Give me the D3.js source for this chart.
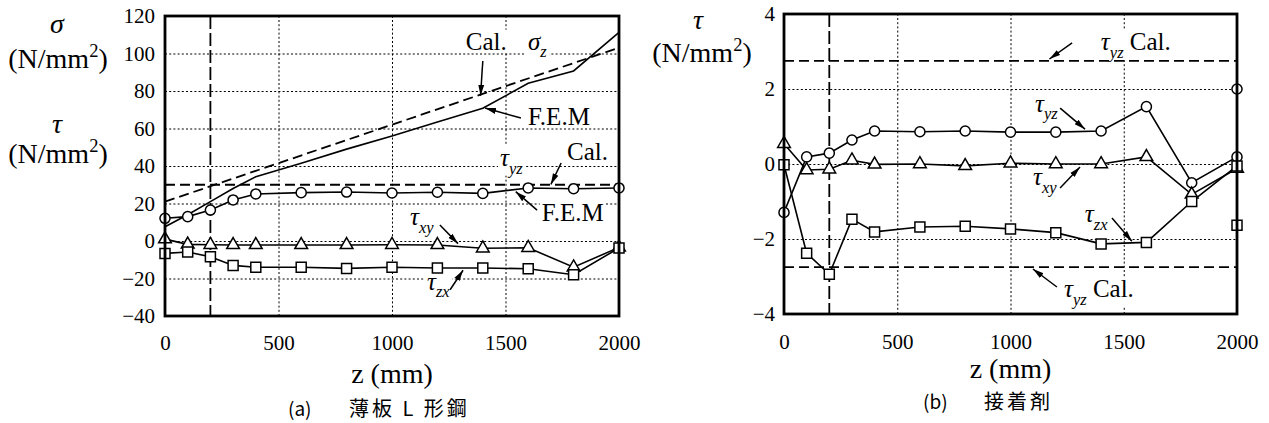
<!DOCTYPE html>
<html lang="en">
<head>
<meta charset="UTF-8">
<title>応力分布</title>
<script src="https://d3js.org/d3.v7.min.js"></script>
<style>
    * { margin: 0; padding: 0; box-sizing: border-box; }
    html, body { width: 100vw; height: 100vh; overflow: clip; background: #fff; }
    svg { display: block; }
</style>
</head>
<body>
<svg id="chart" width="1269" height="423"></svg>
<script>
const SERIF = '"Liberation Serif", "Times New Roman", serif'
const CJK = '"Noto Sans CJK JP", "Noto Sans", sans-serif'

// measuring points along the member (mm)
const zPts = [0, 100, 200, 300, 400, 600, 800, 1000, 1200, 1400, 1600, 1800, 2000]
const xTicks = [0, 500, 1000, 1500, 2000]
const cutZ = 200

// (a) 薄板L形鋼
const aTicks = [-40, -20, 0, 20, 40, 60, 80, 100, 120]
const aSigmaFem = [7.6, 14, 21, 28, 34.3, 41.5, 49, 56, 63.5, 70.8, 84.1, 90.7, 111.3]
const aSigmaCalZ = [0, 2000]
const aSigmaCal = [21, 103.1]
const aTauYz = [12.1, 13, 16.5, 21.9, 25.1, 25.8, 26.1, 25.6, 26, 25.4, 28.3, 27.9, 28.3]
const aTauXy = [1, -1.8, -2, -2.1, -2.1, -2.1, -2.1, -2, -2.1, -3.9, -3.6, -14, -3.4]
const aTauZx = [-6.6, -5.9, -8.4, -13, -14, -14, -14.6, -14, -14.4, -14.4, -14.8, -18, -3.7]
const aTauYzCal = [30]

// (b) 接着剤
const bTicks = [-4, -2, 0, 2, 4]
const bTauYz = [-1.29, 0.19, 0.29, 0.64, 0.88, 0.86, 0.88, 0.85, 0.85, 0.88, 1.53, -0.5, 0.19]
const bTauXy = [0.54, -0.16, -0.14, 0.1, -0.01, 0, -0.05, 0.02, 0, 0, 0.19, -0.81, -0.12]
const bTauZx = [-0.02, -2.38, -2.94, -1.47, -1.81, -1.68, -1.66, -1.73, -1.83, -2.13, -2.09, -1.0, -0.05]
const bTauYzCal = [2.75, -2.75]
const bLoneZ = [2000]
const bLoneYz = [2.0]
const bLoneZx = [-1.63]

const svg = d3.select("#chart").style("font-family", SERIF)

svg.append("defs").append("marker")
    .attr("id", "arrow")
    .attr("viewBox", "0 -4 11 8")
    .attr("refX", 11).attr("refY", 0)
    .attr("markerWidth", 11).attr("markerHeight", 8)
    .attr("markerUnits", "userSpaceOnUse")
    .attr("orient", "auto")
    .append("path")
    .attr("d", "M0,-3L11,0L0,3Z")
    .attr("fill", "#000")

// text with italic greek, subscripts and superscripts
function label(g, x, y, parts, size = 25, anchor = "start") {
    const t = g.append("text")
        .attr("x", x).attr("y", y)
        .attr("text-anchor", anchor)
        .style("font-family", SERIF)
        .style("font-size", size + "px")
        .attr("fill", "#000")
    let shift = 0
    parts.forEach(p => {
        const ts = t.append("tspan").text(p.t)
        const want = p.sub ? size * 0.3 : p.sup ? -size * 0.38 : 0
        if (want !== shift) { ts.attr("dy", want - shift); shift = want }
        if (p.sub || p.sup) ts.style("font-size", (size * 0.66) + "px")
        if (p.it) ts.style("font-style", "italic")
    })
    return t
}

function boxed(g, t) {
    const b = t.node().getBBox()
    g.insert("rect", () => t.node())
        .attr("x", b.x - 2).attr("y", b.y + 2)
        .attr("width", b.width + 4).attr("height", b.height - 4)
        .attr("fill", "#fff")
}

const TAU = (s) => [{ t: "τ", it: true }, { t: s, sub: true, it: true }]
const fmt = d => (d < 0 ? "\u2212" : "") + Math.abs(d)

function drawPanel(p) {
    const g = svg.append("g")
    const x = d3.scaleLinear().domain([0, 2000]).range([p.left, p.right])
    const y = d3.scaleLinear().domain(d3.extent(p.yTicks)).range([p.bottom, p.top])
    const w = p.right - p.left, h = p.bottom - p.top

    // dotted grid
    const grid = g.append("g")
    grid.append("g")
        .attr("transform", `translate(0,${p.bottom})`)
        .call(d3.axisBottom(x).tickValues(xTicks.slice(1, -1)).tickSize(-h).tickFormat(""))
    grid.append("g")
        .attr("transform", `translate(${p.left},0)`)
        .call(d3.axisLeft(y).tickValues(p.yTicks.slice(1, -1)).tickSize(-w).tickFormat(""))
    grid.selectAll(".domain").remove()
    grid.selectAll("line").attr("stroke", "#000").attr("stroke-width", 1).attr("stroke-dasharray", "2,2.2")

    // annotations (white box breaks the grid behind the text)
    const ann = g.append("g")
    p.notes.forEach(n => {
        const t = label(ann, x(n.z), y(n.v), n.parts)
        boxed(ann, t)
        if (!n.arrow) return
        ann.append("line")
            .attr("x1", x(n.arrow[0])).attr("y1", y(n.arrow[1]))
            .attr("x2", x(n.arrow[2])).attr("y2", y(n.arrow[3]))
            .attr("stroke", "#000").attr("stroke-width", 1.5)
            .attr("marker-end", "url(#arrow)")
    })

    // dashed reference lines
    const ref = g.append("g").attr("stroke", "#000").attr("fill", "none")
    ref.append("line")
        .attr("x1", x(cutZ)).attr("x2", x(cutZ)).attr("y1", p.top).attr("y2", p.bottom)
        .attr("stroke-width", 1.8).attr("stroke-dasharray", "13,4")
    ref.selectAll("line.cal").data(p.cal).join("line").attr("class", "cal")
        .attr("x1", p.left).attr("x2", p.right)
        .attr("y1", d => y(d)).attr("y2", d => y(d))
        .attr("stroke-width", 1.8).attr("stroke-dasharray", "10,5")
    if (p.calLine) {
        ref.append("path")
            .attr("d", d3.line().x((d, i) => x(p.calLine.z[i])).y(d => y(d))(p.calLine.values))
            .attr("stroke-width", 1.8).attr("stroke-dasharray", "10,5")
    }

    // data lines
    const line = d3.line().x((d, i) => x(zPts[i])).y(d => y(d))
    const data = g.append("g").attr("fill", "none").attr("stroke", "#000").attr("stroke-width", 1.6)
    p.lines.forEach(s => data.append("path").attr("d", line(s)))

    // markers
    const syms = g.append("g").attr("fill", "#fff").attr("stroke", "#000").attr("stroke-width", 1.5)
    p.series.forEach(s => {
        const sym = d3.symbol().type(s.type).size(s.size)
        syms.selectAll(null).data(s.values.map((v, i) => [s.z ? s.z[i] : zPts[i], v])).join("path")
            .attr("transform", d => `translate(${x(d[0])},${y(d[1])})`)
            .attr("d", sym)
    })

    // frame
    g.append("rect")
        .attr("x", p.left).attr("y", p.top).attr("width", w).attr("height", h)
        .attr("fill", "none").attr("stroke", "#000").attr("stroke-width", 2.8)

    // tick labels
    const ax = g.append("g").attr("transform", `translate(${p.left},0)`)
        .call(d3.axisLeft(y).tickValues(p.yTicks).tickFormat(fmt).tickSize(0).tickPadding(p.yPad))
    const bx = g.append("g").attr("transform", `translate(0,${p.bottom})`)
        .call(d3.axisBottom(x).tickValues(xTicks).tickFormat(fmt).tickSize(0).tickPadding(p.xPad))
    ;[ax, bx].forEach(a => {
        a.select(".domain").remove()
        a.attr("font-family", SERIF).attr("font-size", 21)
        a.selectAll("text").style("font-family", SERIF).style("font-size", "21px").attr("fill", "#000")
    })

    // axis title
    label(g, (p.left + p.right) / 2, p.titleY, [{ t: "z (mm)" }], 28, "middle")
}

// ---- (a) ----
drawPanel({
    left: 165, right: 619, top: 16, bottom: 316,
    yTicks: aTicks, yPad: 10, xPad: 19, titleY: 383,
    cal: aTauYzCal,
    calLine: { z: aSigmaCalZ, values: aSigmaCal },
    lines: [aSigmaFem, aTauYz, aTauXy, aTauZx],
    series: [
        { values: aTauYz, type: d3.symbolCircle, size: 80 },
        { values: aTauXy, type: d3.symbolTriangle, size: 70 },
        { values: aTauZx, type: d3.symbolSquare, size: 100 },
    ],
    notes: [
        { z: 1325, v: 102, parts: [{ t: "Cal." }], arrow: [1400, 96, 1390, 77.5] },
        { z: 1599, v: 102, parts: [{ t: "σ", it: true }, { t: "z", sub: true, it: true }] },
        { z: 1599, v: 62, parts: [{ t: "F.E.M" }], arrow: [1568, 65.6, 1410, 70.9] },
        { z: 1476, v: 40, parts: TAU("yz") },
        { z: 1771, v: 43, parts: [{ t: "Cal." }], arrow: [1745, 41.6, 1700, 30.2] },
        { z: 1660, v: 10.5, parts: [{ t: "F.E.M" }], arrow: [1639, 16.5, 1545, 26.3] },
        { z: 1079, v: 8.5, parts: TAU("xy"), arrow: [1211, 8.5, 1291, -1.4] },
        { z: 1154, v: -26, parts: TAU("zx"), arrow: [1256, -26, 1313, -15.6] },
    ],
})

// ---- (b) ----
drawPanel({
    left: 784, right: 1237, top: 14, bottom: 314,
    yTicks: bTicks, yPad: 9, xPad: 20, titleY: 378,
    cal: bTauYzCal,
    lines: [bTauYz, bTauXy, bTauZx],
    series: [
        { values: bTauYz, type: d3.symbolCircle, size: 80 },
        { values: bTauXy, type: d3.symbolTriangle, size: 70 },
        { values: bTauZx, type: d3.symbolSquare, size: 100 },
        { values: bLoneYz, z: bLoneZ, type: d3.symbolCircle, size: 80 },
        { values: bLoneZx, z: bLoneZ, type: d3.symbolSquare, size: 100 },
    ],
    notes: [
        { z: 1399, v: 3.04, parts: [...TAU("yz"), { t: " Cal." }], arrow: [1272, 3.23, 1172, 2.8] },
        { z: 1108, v: 1.39, parts: TAU("yz"), arrow: [1219, 1.49, 1329, 0.93] },
        { z: 1099, v: -0.56, parts: TAU("xy"), arrow: [1219, -0.64, 1307, -0.08] },
        { z: 1328, v: -1.55, parts: TAU("zx"), arrow: [1448, -1.44, 1536, -2.06] },
        { z: 1236, v: -3.55, parts: [...TAU("yz"), { t: " Cal." }], arrow: [1205, -3.28, 1099, -2.8] },
    ],
})

// y-axis titles
label(svg, 57, 33, [{ t: "σ", it: true }], 28, "middle")
label(svg, 58, 68, [{ t: "(N/mm" }, { t: "2", sup: true }, { t: ")" }], 28, "middle")
label(svg, 57, 133, [{ t: "τ", it: true }], 28, "middle")
label(svg, 58, 163, [{ t: "(N/mm" }, { t: "2", sup: true }, { t: ")" }], 28, "middle")
label(svg, 698, 29, [{ t: "τ", it: true }], 28, "middle")
label(svg, 702, 62, [{ t: "(N/mm" }, { t: "2", sup: true }, { t: ")" }], 28, "middle")

// captions
const cap = (x, y, s, size, ls) => svg.append("text")
    .attr("x", x).attr("y", y)
    .style("font-family", CJK).style("font-size", size + "px")
    .attr("letter-spacing", ls).attr("fill", "#000").text(s)
cap(288, 416, "(a)", 19, 0)
cap(349, 416, "薄板 L 形鋼", 20, 3)
cap(923, 409, "(b)", 19, 0)
cap(984, 409, "接着剤", 20, 3)
</script>
</body>
</html>
